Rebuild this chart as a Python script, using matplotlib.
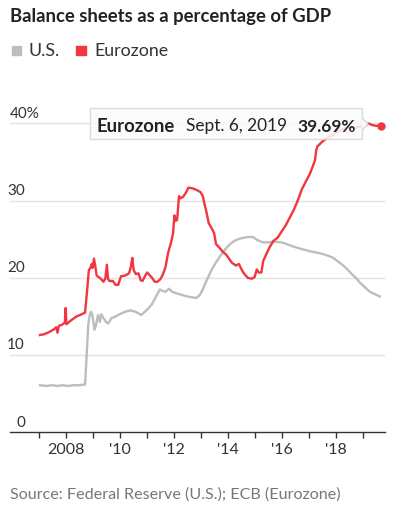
import numpy as np
import matplotlib
matplotlib.use("Agg")
from matplotlib import pyplot as plt
from matplotlib.patches import Rectangle, Polygon
from matplotlib.transforms import blended_transform_factory

plt.rcParams['font.family'] = ['Lato', 'DejaVu Sans']

# values (year, % of GDP)
ez_year = [2007.05, 2007.2, 2007.4, 2007.55, 2007.65, 2007.7, 2007.75, 2007.85, 2007.97, 2008.0,
           2008.03, 2008.2, 2008.4, 2008.6, 2008.72, 2008.8, 2008.86, 2008.92, 2008.97, 2009.0,
           2009.05, 2009.1, 2009.15, 2009.3, 2009.4, 2009.47, 2009.53, 2009.57, 2009.62, 2009.75,
           2009.85, 2009.95, 2010.05, 2010.2, 2010.35, 2010.42, 2010.47, 2010.52, 2010.6, 2010.7,
           2010.78, 2010.85, 2010.95, 2011.02, 2011.1, 2011.2, 2011.3, 2011.4, 2011.5, 2011.6,
           2011.7, 2011.8, 2011.9, 2011.98, 2012.03, 2012.08, 2012.13, 2012.2, 2012.25, 2012.35,
           2012.45, 2012.55, 2012.7, 2012.85, 2013.0, 2013.08, 2013.15, 2013.2, 2013.3, 2013.4,
           2013.5, 2013.57, 2013.7, 2013.82, 2013.95, 2014.05, 2014.15, 2014.3, 2014.42, 2014.5,
           2014.6, 2014.75, 2014.9, 2015.0, 2015.08, 2015.15, 2015.25, 2015.32, 2015.45, 2015.56,
           2015.7, 2015.85, 2016.0, 2016.15, 2016.3, 2016.45, 2016.56, 2016.65, 2016.74, 2016.9,
           2017.05, 2017.15, 2017.24, 2017.28, 2017.32, 2017.49, 2017.68, 2017.9, 2018.1, 2018.3,
           2018.5, 2018.7, 2018.9, 2019.1, 2019.23, 2019.35, 2019.5, 2019.68]
ez_val = [12.6, 12.7, 13.0, 13.3, 13.6, 12.9, 13.8, 13.9, 14.2, 16.1,
          14.0, 14.5, 15.0, 15.3, 15.5, 18.5, 21.0, 21.3, 21.8, 21.3,
          22.5, 21.5, 20.3, 19.9, 19.5, 19.9, 21.7, 19.9, 19.6, 19.6,
          19.1, 19.1, 20.2, 20.3, 20.6, 21.5, 22.6, 21.0, 20.5, 20.6,
          19.7, 19.6, 20.3, 20.7, 20.4, 20.0, 19.5, 19.5, 19.8, 20.4,
          21.4, 23.3, 24.5, 25.8, 28.1, 27.4, 27.5, 30.6, 30.3, 30.5,
          31.0, 31.7, 31.6, 31.4, 31.1, 30.6, 29.5, 28.8, 27.1, 26.5,
          25.8, 24.4, 23.9, 23.4, 23.0, 22.5, 22.0, 21.6, 21.8, 21.2,
          20.6, 20.0, 19.9, 20.1, 21.1, 20.7, 20.7, 22.2, 23.2, 24.0,
          24.8, 25.2, 26.0, 26.8, 27.8, 28.8, 29.7, 30.5, 31.4, 32.5,
          33.5, 34.4, 35.3, 36.5, 37.0, 37.6, 38.1, 38.5, 39.0, 39.3,
          39.5, 39.4, 39.6, 39.8, 40.0, 39.8, 39.7, 39.69]

us_year = [2007.05, 2007.3, 2007.5, 2007.7, 2007.9, 2008.1, 2008.3, 2008.5, 2008.72, 2008.78,
           2008.84, 2008.9, 2008.95, 2009.0, 2009.07, 2009.12, 2009.2, 2009.27, 2009.32, 2009.4,
           2009.5, 2009.58, 2009.7, 2009.85, 2010.0, 2010.2, 2010.4, 2010.6, 2010.8, 2010.9,
           2011.05, 2011.2, 2011.35, 2011.49, 2011.6, 2011.7, 2011.83, 2011.95, 2012.11, 2012.3,
           2012.5, 2012.67, 2012.85, 2012.97, 2013.08, 2013.2, 2013.4, 2013.55, 2013.72, 2013.85,
           2013.96, 2014.1, 2014.25, 2014.46, 2014.76, 2014.94, 2015.1, 2015.3, 2015.5, 2015.7,
           2016.0, 2016.18, 2016.4, 2016.68, 2016.9, 2017.1, 2017.42, 2017.7, 2017.91, 2018.1,
           2018.25, 2018.41, 2018.6, 2018.75, 2018.9, 2019.05, 2019.27, 2019.45, 2019.64]
us_val = [6.1, 6.0, 6.1, 6.0, 6.1, 6.0, 6.1, 6.1, 6.2, 10.0,
          14.0, 15.3, 15.6, 15.0, 13.3, 13.8, 15.2, 14.3, 15.3, 14.8,
          14.3, 14.1, 14.8, 15.0, 15.3, 15.6, 15.8, 15.6, 15.2, 15.5,
          16.0, 16.6, 17.6, 18.5, 18.3, 18.2, 18.6, 18.2, 18.0, 17.8,
          17.6, 17.5, 17.4, 17.8, 18.5, 19.5, 21.0, 21.9, 22.8, 23.4,
          23.9, 24.4, 24.8, 25.1, 25.3, 25.3, 24.9, 24.6, 24.6, 24.7,
          24.6, 24.4, 24.1, 23.8, 23.6, 23.4, 23.2, 22.9, 22.6, 22.1,
          21.7, 21.2, 20.5, 20.0, 19.4, 18.9, 18.2, 17.9, 17.6]

y_ticks = [0, 10, 20, 30, 40]
x_ticks = list(range(2007, 2020))
x_labels = {2008: '2008', 2010: "'10", 2012: "'12", 2014: "'14", 2016: "'16", 2018: "'18"}

RED = '#f2353f'
GRAY = '#bdbdbd'
W, H = 399, 511


def fx(px):
    return px / W


def fy(py):
    return 1 - py / H


fig = plt.figure(figsize=(W / 100, H / 100), dpi=100)
ax = fig.add_axes([fx(10), fy(432.3), fx(385) - fx(10), 42 * 7.72 / H])
ax.set_xlim(2005.94, 2019.83)
ax.set_ylim(0, 42)

for v in y_ticks[1:]:
    ax.axhline(v, color='#e3e3e3', lw=1.0, zorder=0)

ax.plot(us_year, us_val, color=GRAY, lw=1.7, zorder=2, solid_joinstyle='round')
ax.plot(ez_year, ez_val, color=RED, lw=1.7, zorder=3, solid_joinstyle='round')
ax.plot(ez_year[-1], ez_val[-1], 'o', color=RED, ms=5, zorder=6)

for s in ['top', 'right', 'left']:
    ax.spines[s].set_visible(False)
ax.spines['bottom'].set_color('#333333')
ax.spines['bottom'].set_linewidth(1.0)
ax.set_yticks([])
ax.set_xticks(x_ticks)
ax.set_xticklabels([x_labels.get(y, '') for y in x_ticks])
ax.tick_params(axis='x', length=4, width=1, color='#333333', pad=4,
               labelsize=11.5, labelcolor='#333333')

# y labels sit above gridlines
ytr = blended_transform_factory(fig.transFigure, ax.transData)
for v in y_ticks[:-1]:
    ax.text(fx(25), v + 0.35, str(v), transform=ytr, ha='right', va='bottom',
            fontsize=11, color='#333333')
ax.text(fx(10), y_ticks[-1] + 0.35, f'{y_ticks[-1]}%', transform=ytr, ha='left',
        va='bottom', fontsize=11, color='#333333')

# title, legend and source
fig.text(fx(10), fy(22), 'Balance sheets as a percentage of GDP', fontsize=13.3,
         fontweight='bold', color='#222222', va='baseline')
fig.patches.append(Rectangle((fx(12), fy(55)), fx(9), 9 / H, transform=fig.transFigure,
                             color=GRAY, figure=fig))
fig.text(fx(28), fy(56), 'U.S.', fontsize=12.8, color='#333333', va='baseline')
fig.patches.append(Rectangle((fx(76), fy(55)), fx(10), 9 / H, transform=fig.transFigure,
                             color=RED, figure=fig))
fig.text(fx(94), fy(56), 'Eurozone', fontsize=12.8, color='#333333', va='baseline')
fig.text(fx(10), fy(499), 'Source: Federal Reserve (U.S.); ECB (Eurozone)', fontsize=11.6,
         color='#777777', va='baseline')

# tooltip
box = Rectangle((fx(90), fy(139.5)), fx(362) - fx(90), 31 / H, transform=fig.transFigure,
                facecolor='#fbfbfb', edgecolor='#d6d6d6', lw=1, alpha=0.85, zorder=5, figure=fig)
fig.patches.append(box)
tip = Polygon([(fx(362), fy(118)), (fx(368), fy(124)), (fx(362), fy(130))], closed=False,
              transform=fig.transFigure, facecolor='#fbfbfb', edgecolor='#d6d6d6', lw=1,
              zorder=5, figure=fig)
fig.patches.append(tip)
fig.text(fx(97), fy(131.5), 'Eurozone', fontsize=13.3, fontweight='bold', color='#222222',
         va='baseline', zorder=7)
fig.text(fx(186), fy(131.5), 'Sept. 6, 2019', fontsize=12.4, color='#222222',
         va='baseline', zorder=7)
fig.text(fx(297), fy(131.5), '39.69%', fontsize=12.4, fontweight='bold', color='#222222',
         va='baseline', zorder=7)

fig.savefig('out.png', dpi=100)
